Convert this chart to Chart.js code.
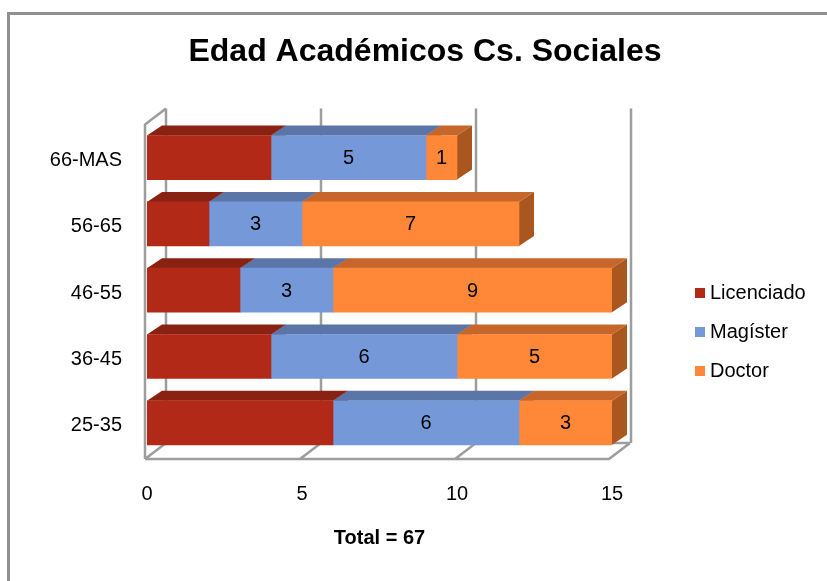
<!DOCTYPE html>
<html lang="es">
<head>
<meta charset="UTF-8">
<title>Edad Académicos Cs. Sociales</title>
<script src="https://cdn.jsdelivr.net/npm/chart.js@4.4.0/dist/chart.umd.min.js"></script>
<style>
    * { margin: 0; padding: 0; box-sizing: border-box; }
    body {
        width: 827px;
        height: 581px;
        overflow: hidden;
        background: #fff;
        font-family: 'Liberation Sans', Arial, sans-serif;
        position: relative;
    }
    .cut-title {
        position: absolute;
        left: 283px;
        top: -23px;
        font-size: 28px;
        line-height: 28px;
        font-weight: bold;
        color: #666;
        white-space: nowrap;
    }
    .frame {
        position: absolute;
        left: 7px;
        top: 12px;
        width: 900px;
        height: 620px;
        border: 3px solid #909090;
        background: #fff;
    }
    #wrap {
        position: absolute;
        left: 0;
        top: 0;
        width: 827px;
        height: 581px;
    }
    .legend {
        position: absolute;
        left: 695px;
        top: 280px;
        font-size: 20px;
        color: #000;
    }
    .legend div {
        height: 39px;
        line-height: 24px;
        white-space: nowrap;
    }
    .legend span.box {
        display: inline-block;
        width: 10px;
        height: 10px;
        margin-right: 5px;
        vertical-align: 1px;
    }
</style>
</head>
<body>
<div class="cut-title">Gráfico 6: Edad Académicos Cs. Sociales</div>
<div class="frame"></div>
<div id="wrap"><canvas id="chart" width="827" height="581"></canvas></div>
<div class="legend" id="legend"></div>

<script>
// datos
const categorias = ['66-MAS', '56-65', '46-55', '36-45', '25-35'];
const licenciado = [4, 2, 3, 4, 6];
const magister = [5, 3, 3, 6, 6];
const doctor = [1, 7, 9, 5, 3];
const ticksX = [0, 5, 10, 15];
const series = ['Licenciado', 'Magíster', 'Doctor'];

const colFront = ['#b22a17', '#7599d8', '#ff8838'];
const colTop = ['#8a2213', '#5b75a8', '#c6662b'];
const colSide = ['#7a1c0f', '#4d6491', '#a9561f'];

Chart.defaults.font.family = "'Liberation Sans', Arial, sans-serif";
Chart.defaults.color = '#000';

// paredes, suelo y caras 3D de las barras
const depth3d = {
    id: 'depth3d',
    afterLayout(chart) {
        // centrar el titulo sobre todo el marco, no solo sobre el area
        const t = chart.titleBlock;
        t.left = 0;
        t.right = 850;
        t.width = 850;
    },
    beforeDatasetsDraw(chart) {
        const ctx = chart.ctx;
        const a = chart.chartArea;
        const xs = chart.scales.x;
        const wdx = 21, wdy = -16;
        const floorY = a.bottom + 3;
        const L = xs.getPixelForValue(0) - 2;
        const R = xs.getPixelForValue(15) - 3;

        ctx.save();
        ctx.strokeStyle = '#9d9d9d';
        ctx.lineWidth = 2.5;
        ctx.lineJoin = 'round';
        ctx.beginPath();
        // pared izquierda
        ctx.moveTo(L, floorY);
        ctx.lineTo(L, a.top);
        ctx.lineTo(L + wdx, a.top + wdy);
        // lineas verticales del fondo
        ticksX.forEach(v => {
            const x = xs.getPixelForValue(v) - 2 + wdx;
            ctx.moveTo(x, a.top + wdy);
            ctx.lineTo(x, floorY + wdy);
        });
        // suelo
        ctx.moveTo(L, floorY);
        ctx.lineTo(R, floorY);
        ctx.lineTo(R + wdx, floorY + wdy);
        ctx.moveTo(L + wdx, floorY + wdy);
        ctx.lineTo(R + wdx, floorY + wdy);
        ticksX.slice(0, -1).forEach(v => {
            const x = xs.getPixelForValue(v) - 2;
            ctx.moveTo(x, floorY);
            ctx.lineTo(x + wdx, floorY + wdy);
        });
        ctx.stroke();

        // caras laterales y superiores
        const bdx = 15, bdy = -10;
        const metas = chart.data.datasets.map((d, i) => chart.getDatasetMeta(i));
        metas.forEach((meta, di) => {
            meta.data.forEach(el => {
                const p = el.getProps(['x', 'y', 'base', 'height'], true);
                const top = p.y - p.height / 2, bot = p.y + p.height / 2;
                const r = Math.max(p.x, p.base);
                ctx.fillStyle = colSide[di];
                ctx.beginPath();
                ctx.moveTo(r, top);
                ctx.lineTo(r + bdx, top + bdy);
                ctx.lineTo(r + bdx, bot + bdy);
                ctx.lineTo(r, bot);
                ctx.closePath();
                ctx.fill();
            });
        });
        metas.forEach((meta, di) => {
            meta.data.forEach(el => {
                const p = el.getProps(['x', 'y', 'base', 'height'], true);
                const top = p.y - p.height / 2;
                const l = Math.min(p.x, p.base), r = Math.max(p.x, p.base);
                ctx.fillStyle = colTop[di];
                ctx.beginPath();
                ctx.moveTo(l, top);
                ctx.lineTo(l + bdx, top + bdy);
                ctx.lineTo(r + bdx, top + bdy);
                ctx.lineTo(r, top);
                ctx.closePath();
                ctx.fill();
            });
        });
        ctx.restore();
    },
    afterDatasetsDraw(chart) {
        const ctx = chart.ctx;
        ctx.save();
        ctx.fillStyle = '#000';
        ctx.font = "20px 'Liberation Sans', Arial, sans-serif";
        ctx.textAlign = 'center';
        ctx.textBaseline = 'middle';
        // solo Magíster y Doctor llevan etiqueta
        [1, 2].forEach(di => {
            const meta = chart.getDatasetMeta(di);
            meta.data.forEach((el, i) => {
                const p = el.getProps(['x', 'y', 'base'], true);
                ctx.fillText(chart.data.datasets[di].data[i], (p.x + p.base) / 2, p.y + 1);
            });
        });
        ctx.restore();
    }
};

const chart = new Chart(document.getElementById('chart'), {
    type: 'bar',
    data: {
        labels: categorias,
        datasets: [licenciado, magister, doctor].map((d, i) => ({
            label: series[i],
            data: d,
            backgroundColor: colFront[i],
            borderWidth: 0,
            barThickness: 44
        }))
    },
    options: {
        indexAxis: 'y',
        responsive: false,
        animation: false,
        layout: { padding: { left: 0, right: 215, top: 0, bottom: 0 } },
        plugins: {
            legend: { display: false },
            tooltip: { enabled: false },
            title: {
                display: true,
                text: 'Edad Académicos Cs. Sociales',
                font: { size: 32, weight: 'bold' },
                color: '#000',
                padding: { top: 33, bottom: 53 }
            }
        },
        scales: {
            x: {
                stacked: true,
                min: 0,
                max: 15,
                ticks: { stepSize: 5, padding: 18, font: { size: 20 }, color: '#000' },
                grid: { display: false },
                border: { display: false },
                title: {
                    display: true,
                    text: 'Total = 67',
                    font: { size: 20, weight: 'bold' },
                    color: '#000',
                    padding: { bottom: 31 }
                },
                afterFit(s) { s.height = 125; }
            },
            y: {
                stacked: true,
                ticks: { padding: 17, labelOffset: 3, font: { size: 20 }, color: '#000' },
                grid: { display: false },
                border: { display: false },
                afterFit(s) { s.width = 147; }
            }
        }
    },
    plugins: [depth3d]
});

// leyenda
const legend = document.getElementById('legend');
series.forEach((s, i) => {
    const row = document.createElement('div');
    row.innerHTML = '<span class="box" style="background:' + colFront[i] + '"></span>' + s;
    legend.appendChild(row);
});
</script>
</body>
</html>
